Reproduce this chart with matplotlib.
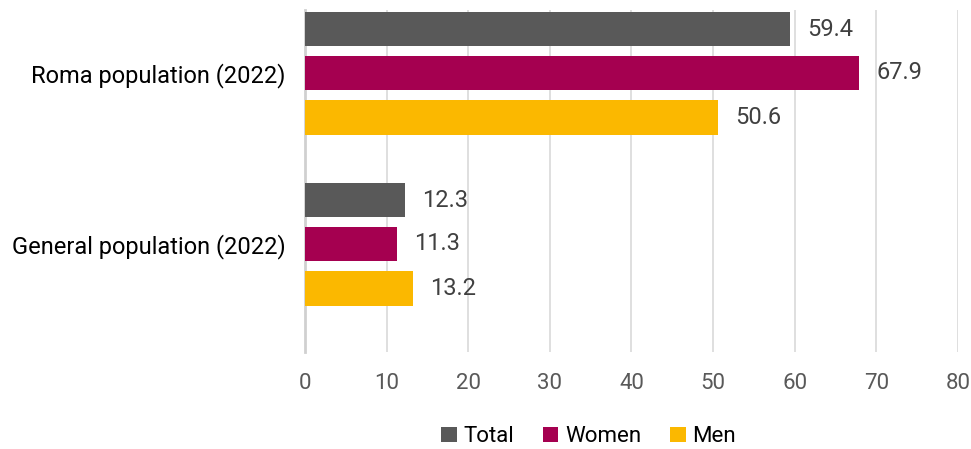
import matplotlib
matplotlib.use('Agg')
import matplotlib.pyplot as plt
import numpy as np

plt.rcParams['font.family'] = ['Roboto', 'DejaVu Sans']

groups = ['Roma population (2022)', 'General population (2022)']
series = ['Total', 'Women', 'Men']
values = {
    'Total': [59.4, 12.3],
    'Women': [67.9, 11.3],
    'Men': [50.6, 13.2],
}
colors = {'Total': '#595959', 'Women': '#a50050', 'Men': '#fbb800'}
xticks = [0, 10, 20, 30, 40, 50, 60, 70, 80]

fig = plt.figure(figsize=(9.71, 4.49), dpi=100)
ax = fig.add_axes([0.3141, 0.216, 0.6725, 0.7617])

pos = np.arange(len(groups))
offsets = [-0.255, 0.0, 0.26]
bar_h = 0.2

for s, off in zip(series, offsets):
    bars = ax.barh(pos + off, values[s], height=bar_h, color=colors[s],
                   label=s, zorder=3)
    for b, v in zip(bars, values[s]):
        ax.text(v + 2.1, b.get_y() + b.get_height() / 2, f'{v:.1f}',
                va='center', ha='left', fontsize=17, color='#404040')

ax.set_ylim(1.632, -0.368)
ax.set_xlim(0, 80)
ax.set_yticks(pos)
ax.set_yticklabels(groups, fontsize=17, color='black')
ax.set_xticks(xticks)
ax.set_xticklabels([str(t) for t in xticks], fontsize=16, color='#595959')
ax.tick_params(axis='both', length=0)
ax.tick_params(axis='x', pad=15)
ax.tick_params(axis='y', pad=14)

ax.grid(axis='x', color='#d9d9d9', linewidth=1.2, zorder=0)
for side in ['top', 'right', 'bottom']:
    ax.spines[side].set_visible(False)
ax.spines['left'].set_color('#d0d0d0')
ax.spines['left'].set_linewidth(2)

fig.legend(loc='center', bbox_to_anchor=(0.606, 0.027), ncol=3, frameon=False,
           fontsize=16, handlelength=0.7, handleheight=0.7, handletextpad=0.3,
           columnspacing=1.3)

fig.savefig('out.png', dpi=100)
